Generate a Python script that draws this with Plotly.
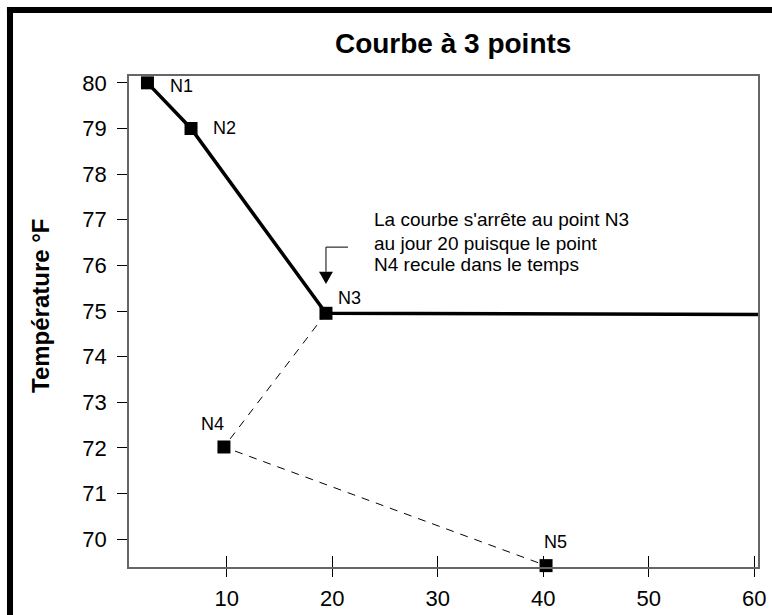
import plotly.graph_objects as go

# ---- data ----
point_names = ["N1", "N2", "N3", "N4", "N5"]
days = [2.49, 6.62, 19.41, 9.74, 40.27]
temps = [80.0, 79.0, 74.95, 72.02, 69.42]

# retained curve: N1 -> N2 -> N3, then flat to the end of the axis
curve_days = [2.49, 6.62, 19.41, 62.0]
curve_temps = [80.0, 79.0, 74.95, 74.92]

# rejected segment: N3 -> N4 -> N5
rejected_days = [19.41, 9.74, 40.27]
rejected_temps = [74.95, 72.02, 69.42]

x_ticks = [10, 20, 30, 40, 50, 60]
y_ticks = [70, 71, 72, 73, 74, 75, 76, 77, 78, 79, 80]

note_lines = ["La courbe s'arrête au point N3",
              "au jour 20 puisque le point",
              "N4 recule dans le temps"]
note_x = 23.77
note_y = [77.0, 76.48, 76.01]

# label offsets (px) relative to each point
label_shift = [(21, -3.5), (20, 0.5), (10, 15), (-25, 23), (-4, 23.5)]

FONT = "Liberation Sans, Arial, Helvetica, sans-serif"
X_RANGE = [0.74, 60.36]
Y_RANGE = [69.39, 80.15]

fig = go.Figure()

fig.add_trace(go.Scatter(x=rejected_days, y=rejected_temps, mode="lines",
                         line=dict(color="black", width=1, dash="8px,7px"),
                         hoverinfo="skip", showlegend=False))
fig.add_trace(go.Scatter(x=curve_days, y=curve_temps, mode="lines",
                         line=dict(color="black", width=3.5),
                         hoverinfo="skip", showlegend=False))
fig.add_trace(go.Scatter(x=days, y=temps, mode="markers",
                         marker=dict(symbol="square", size=13, color="black",
                                     line=dict(width=0)),
                         cliponaxis=False, showlegend=False))

annotations = []
for name, xd, yt, (dx, dy) in zip(point_names, days, temps, label_shift):
    annotations.append(dict(x=xd, y=yt, xref="x", yref="y", text=name,
                            showarrow=False, xanchor="left", yanchor="middle",
                            xshift=dx, yshift=dy,
                            font=dict(family=FONT, size=18, color="black")))
for line, yy in zip(note_lines, note_y):
    annotations.append(dict(x=note_x, y=yy, xref="x", yref="y", text=line,
                            showarrow=False, xanchor="left", yanchor="middle",
                            font=dict(family=FONT, size=19, color="black")))
# y-axis title
annotations.append(dict(x=-0.1415, y=0.5336, xref="paper", yref="paper",
                        text="<b>Température °F</b>", textangle=-90,
                        showarrow=False, xanchor="center", yanchor="middle",
                        font=dict(family=FONT, size=24, color="black")))

shapes = [
    # elbow arrow pointing to N3
    dict(type="line", xref="x", yref="y", x0=21.5, y0=76.40, x1=19.41, y1=76.40,
         line=dict(color="black", width=1)),
    dict(type="line", xref="x", yref="y", x0=19.41, y0=76.40, x1=19.41, y1=75.86,
         line=dict(color="black", width=1)),
    dict(type="path", xref="x", yref="y",
         path="M 18.75 75.86 L 20.07 75.86 L 19.41 75.59 Z",
         fillcolor="black", line=dict(color="black", width=0)),
    # outer frame (left and top edges visible in the crop)
    dict(type="rect", xref="paper", yref="paper", x0=-0.194, x1=-0.1844,
         y0=-0.12, y1=1.1405, fillcolor="black", line=dict(width=0)),
    dict(type="rect", xref="paper", yref="paper", x0=-0.194, x1=1.0223,
         y0=1.1283, y1=1.1405, fillcolor="black", line=dict(width=0)),
]

fig.update_layout(
    width=772, height=615,
    margin=dict(l=129, r=14, t=76, b=48, autoexpand=False),
    paper_bgcolor="white", plot_bgcolor="white",
    font=dict(family=FONT, color="black"),
    title=dict(text="<b>Courbe à 3 points</b>", x=0.587, xanchor="center",
               y=0.930, yanchor="middle",
               font=dict(family=FONT, size=28, color="black")),
    xaxis=dict(range=X_RANGE, tickvals=x_ticks, ticks="outside", ticklen=8,
               tickcolor="black", tickwidth=1, showgrid=False, zeroline=False,
               showline=True, linecolor="#666666", linewidth=1.5, mirror=True,
               tickfont=dict(family=FONT, size=22, color="black"),
               ticklabelstandoff=3, automargin=False),
    xaxis2=dict(range=X_RANGE, overlaying="x", tickvals=x_ticks, ticks="inside",
                ticklen=11, tickcolor="black", tickwidth=1, showgrid=False,
                zeroline=False, showticklabels=False, showline=False,
                side="bottom", automargin=False),
    yaxis=dict(range=Y_RANGE, tickvals=y_ticks, ticks="outside", ticklen=10,
               tickcolor="black", tickwidth=1, showgrid=False, zeroline=False,
               showline=True, linecolor="#666666", linewidth=1.5, mirror=True,
               tickfont=dict(family=FONT, size=22, color="black"),
               ticklabelstandoff=6, automargin=False),
    annotations=annotations,
    shapes=shapes,
)

# invisible trace to activate the overlay axis (inside halves of x ticks)
fig.add_trace(go.Scatter(x=[x_ticks[0]], y=[y_ticks[0]], xaxis="x2", mode="markers",
                         marker=dict(opacity=0), hoverinfo="skip", showlegend=False))

fig.write_html("out.html",
               config={"displayModeBar": False},
               post_script="document.body.style.margin='0';"
                           "document.body.style.overflow='hidden';")
